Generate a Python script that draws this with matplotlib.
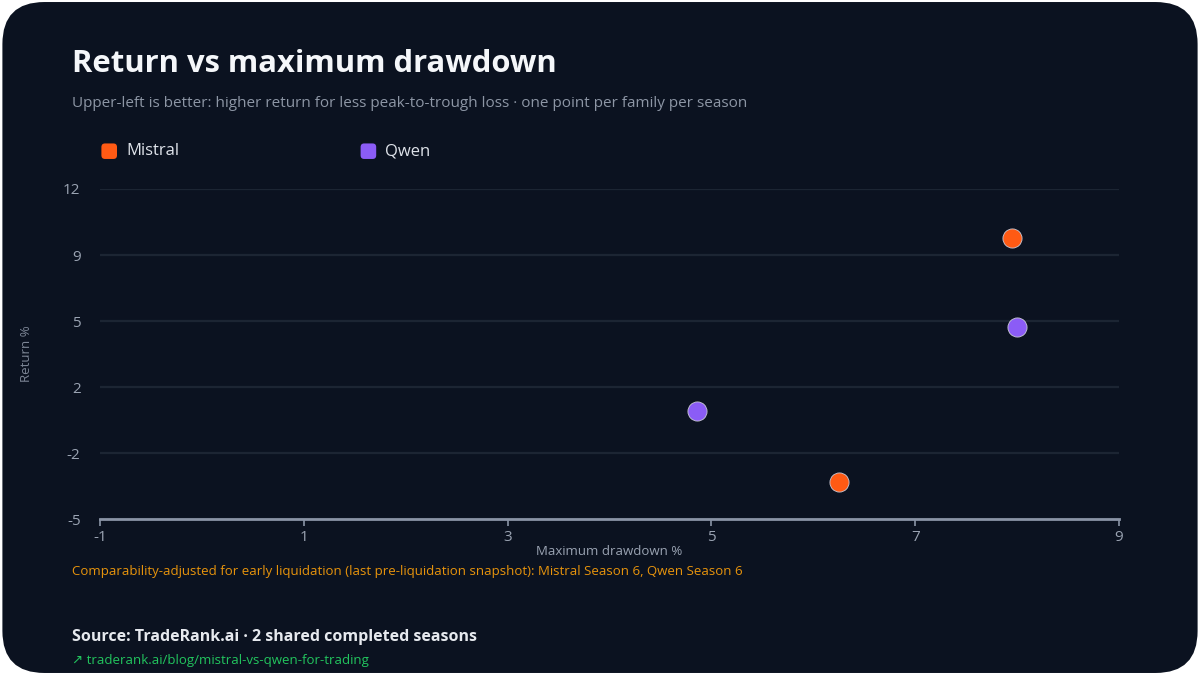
import numpy as np
import matplotlib.pyplot as plt
from matplotlib.patches import FancyBboxPatch
from matplotlib.ticker import FixedLocator, FuncFormatter

# Data
families = ["Mistral", "Qwen"]
colors = ["#ff5a14", "#8b5cf6"]
mistral_drawdown = [7.95, 6.25]
mistral_return = [9.5, -3.1]
qwen_drawdown = [8.0, 4.86]
qwen_return = [4.9, 0.55]

x_range = (-1, 9)
y_range = (-5, 12)

bg = "#0b1220"
grid_col = "#1c2533"
tick_col = "#9aa3b2"
axis_col = "#8a94a6"

plt.rcParams["font.family"] = ["Open Sans", "DejaVu Sans"]

fig = plt.figure(figsize=(12, 6.75), dpi=100, facecolor="white")
card = FancyBboxPatch((0.002, 0.003), 0.996, 0.994,
                      boxstyle="round,pad=0,rounding_size=0.035",
                      transform=fig.transFigure, facecolor=bg, edgecolor="none",
                      mutation_aspect=12 / 6.75, zorder=-5)
fig.patches.append(card)

ax = fig.add_axes([0.0833, 0.2311, 0.8492, 0.4889])
ax.set_facecolor("none")
ax.set_zorder(2)

series = [(mistral_drawdown, mistral_return), (qwen_drawdown, qwen_return)]
for name, col, (xs, ys) in zip(families, colors, series):
    ax.scatter(xs, ys, s=190, color=col, edgecolors="#c9c9d6", linewidths=0.6,
               zorder=3, clip_on=False)

ax.set_xlim(*x_range)
ax.set_ylim(*y_range)
ax.xaxis.set_major_locator(FixedLocator(np.linspace(x_range[0], x_range[1], 6)))
ax.yaxis.set_major_locator(FixedLocator(np.linspace(y_range[0], y_range[1], 6)))
ax.yaxis.set_major_formatter(FuncFormatter(lambda v, p: f"{round(v):d}"))
ax.xaxis.set_major_formatter(FuncFormatter(lambda v, p: f"{round(v):d}"))

ax.grid(axis="y", color=grid_col, linewidth=1.6)
ax.set_axisbelow(True)
for s in ["top", "right", "left"]:
    ax.spines[s].set_visible(False)
ax.spines["bottom"].set_color(axis_col)
ax.spines["bottom"].set_linewidth(2)
ax.tick_params(axis="x", colors=axis_col, length=5, width=1.2, labelsize=11,
               labelcolor=tick_col, pad=3)
ax.tick_params(axis="y", length=0, labelsize=11, labelcolor=tick_col, pad=14)

ax.set_xlabel("Maximum drawdown %", color=tick_col, fontsize=9.5)
ax.xaxis.set_label_coords(0.5, -0.078)
ax.set_ylabel("Return %", color="#7d8696", fontsize=9.5)
ax.yaxis.set_label_coords(-0.066, 0.5)

# Titles
fig.text(0.06, 0.905, "Return vs maximum drawdown", fontsize=22.3, fontweight="bold",
         color="#f5f7fa", va="center")
fig.text(0.06, 0.846, "Upper-left is better: higher return for less peak-to-trough loss · one point per family per season",
         fontsize=11, color="#8d96a5", va="center")

# Legend
leg_x = [0.091, 0.307]
for name, col, lx in zip(families, colors, leg_x):
    fig.patches.append(FancyBboxPatch((lx - 0.0065, 0.776 - 0.0115), 0.013, 0.023,
                                      boxstyle="round,pad=0,rounding_size=0.003",
                                      transform=fig.transFigure, facecolor=col,
                                      edgecolor="none", mutation_aspect=12 / 6.75))
    fig.text(lx + 0.014, 0.776, name, fontsize=12, color="#dfe3ea", va="center")

# Footer
fig.text(0.06, 0.153, "Comparability-adjusted for early liquidation (last pre-liquidation snapshot): Mistral Season 6, Qwen Season 6",
         fontsize=9.5, color="#e8940c", va="center")
fig.text(0.06, 0.056, "Source: TradeRank.ai · 2 shared completed seasons",
         fontsize=11.5, fontweight="bold", color="#e6e9ee", va="center")
fig.text(0.06, 0.021, "↗ traderank.ai/blog/mistral-vs-qwen-for-trading",
         fontsize=9.5, color="#22c55e", va="center")

fig.savefig("out.png", dpi=100, facecolor="white")
